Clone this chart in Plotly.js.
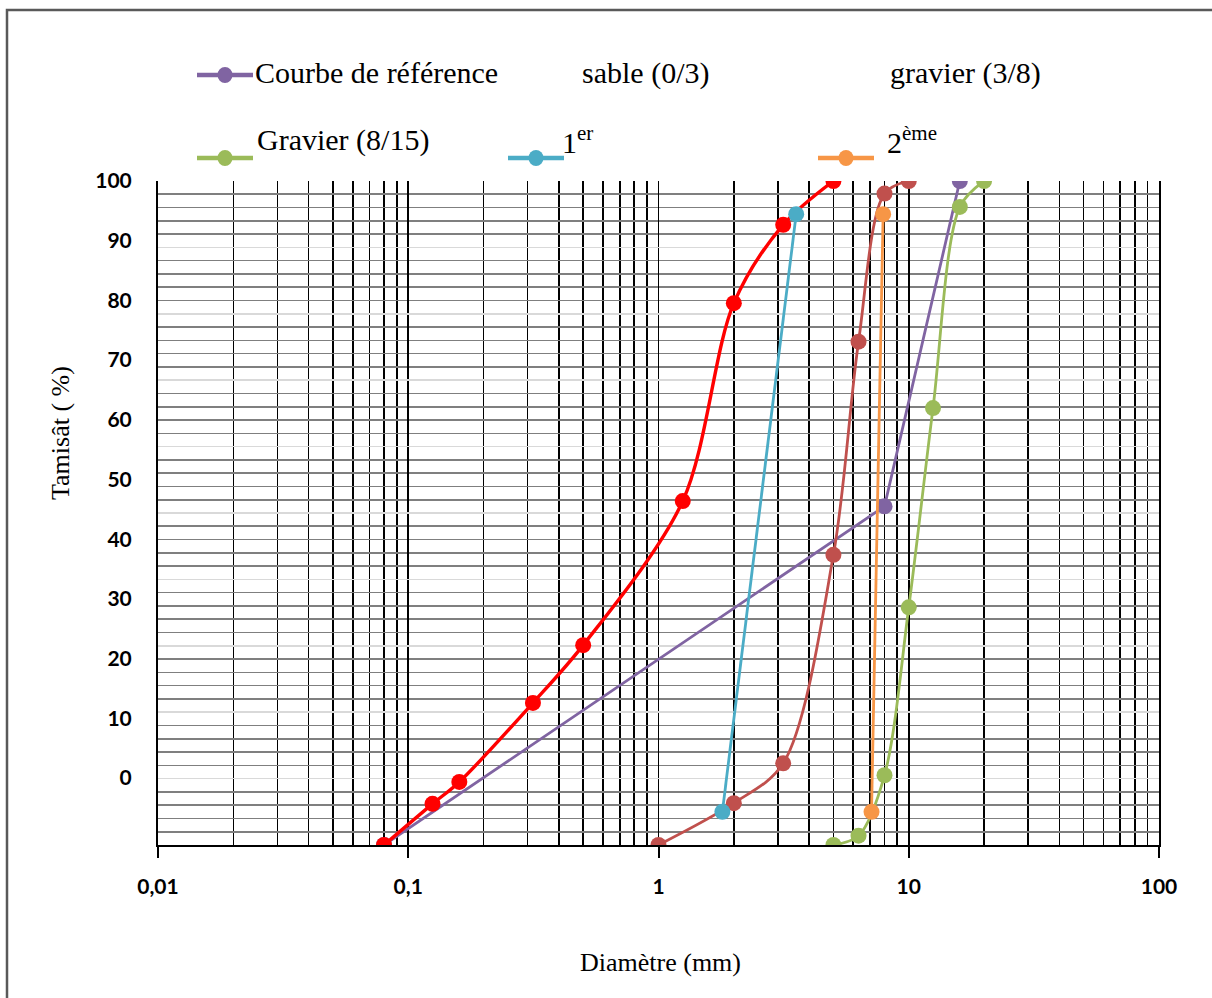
<!DOCTYPE html>
<html>
<head>
<meta charset="utf-8">
<script src="https://cdn.plot.ly/plotly-3.0.1.min.js"></script>
<style>
  html, body { margin: 0; padding: 0; background: #fff; }
  #chart { width: 1212px; height: 998px; }
</style>
</head>
<body>
<div id="chart"></div>
<script>
// Courbes granulométriques : tamisât cumulé (%) en fonction du diamètre (mm)
const seriesNames  = ['Courbe de référence', 'sable (0/3)', 'gravier (3/8)', 'Gravier (8/15)', '1<sup>er</sup>', '2<sup>ème</sup>'];
const seriesColors = ['#8064A2', '#FF0000', '#C0504D', '#9BBB59', '#4BACC6', '#F79646'];
const legendSymbol = [true, false, false, true, true, true];

const refX = [0.08, 8, 16];
const refY = [0, 51, 100];

const sableX = [0.08, 0.125, 0.16, 0.315, 0.5, 1.25, 2, 3.15, 5];
const sableY = [0, 6.2, 9.5, 21.4, 30.1, 51.8, 81.6, 93.4, 100];

const gravier38X = [1, 2, 3.15, 5, 6.3, 8, 10];
const gravier38Y = [0, 6.3, 12.3, 43.7, 75.8, 98.1, 100];

const gravier815X = [5, 6.3, 8, 10, 12.5, 16, 20];
const gravier815Y = [0, 1.4, 10.5, 35.8, 65.8, 96.1, 100];

const premierX = [1.8, 3.55];
const premierY = [5, 95];

const deuxiemeX = [7.1, 7.9];
const deuxiemeY = [5, 95];

const xTickVals = [0.01, 0.1, 1, 10, 100];
const xTickText = ['0,01', '0,1', '1', '10', '100'];
const yTickVals = [0, 10, 20, 30, 40, 50, 60, 70, 80, 90, 100];
const yTickText = ['0', '10', '20', '30', '40', '50', '60', '70', '80', '90', '100'];

const xTitle = 'Diamètre (mm)';
const yTitle = 'Tamisât ( %)';

const xs = [refX, sableX, gravier38X, gravier815X, premierX, deuxiemeX];
const ys = [refY, sableY, gravier38Y, gravier815Y, premierY, deuxiemeY];
const smooth = [false, true, true, true, false, false];

const traces = xs.map((x, i) => ({
  type: 'scatter',
  mode: 'lines+markers',
  x: x,
  y: ys[i],
  name: seriesNames[i],
  showlegend: false,
  line: { color: seriesColors[i], width: i === 1 ? 3.4 : 2.8, shape: smooth[i] ? 'spline' : 'linear', smoothing: 0.9 },
  marker: { color: seriesColors[i], size: 16, symbol: 'circle' },
  hoverinfo: 'x+y+name'
}));
// empty trace that carries the labelled scale on the left
traces.push({ type: 'scatter', x: [], y: [], yaxis: 'y2', showlegend: false, hoverinfo: 'skip' });

// minor vertical grid: 2..9 in each decade
const minorX = [];
for (let d = -2; d < 2; d++) {
  for (let k = 2; k <= 9; k++) minorX.push(k * Math.pow(10, d));
}

// plot area geometry in pixels, used to place the legend and titles
const L = 158, R = 1159, T = 181, B = 845;
const px = v => (v - L) / (R - L);
const py = v => (B - v) / (B - T);

const serif = 'Liberation Serif, Times New Roman, serif';
const annotations = [];
const shapes = [];

// outer frame of the chart area (runs off the right and bottom edges)
shapes.push({
  type: 'rect', xref: 'paper', yref: 'paper',
  x0: px(7), x1: px(1400), y0: py(1200), y1: py(10),
  line: { color: '#595959', width: 2.5 }, fillcolor: 'rgba(0,0,0,0)', layer: 'above'
});

// legend: three columns, two rows
const colText = [[253, 580, 888], [255, 560, 885]];
const rowText = [73, 140];
const rowSym = [75, 158];
const symCenter = [225, null, null, 225, 536, 846];
seriesNames.forEach((name, i) => {
  const r = Math.floor(i / 3), c = i % 3;
  annotations.push({
    xref: 'paper', yref: 'paper', x: px(colText[r][c]), y: py(rowText[r]),
    xanchor: 'left', yanchor: 'middle', showarrow: false,
    text: name, font: { family: serif, size: 30, color: '#000' }
  });
  if (legendSymbol[i]) {
    const cx = symCenter[i];
    shapes.push({
      type: 'line', xref: 'paper', yref: 'paper',
      x0: px(cx - 28), x1: px(cx + 28), y0: py(rowSym[r]), y1: py(rowSym[r]),
      line: { color: seriesColors[i], width: 4.5 }
    });
    shapes.push({
      type: 'circle', xref: 'paper', yref: 'paper',
      xsizemode: 'pixel', ysizemode: 'pixel',
      xanchor: px(cx), yanchor: py(rowSym[r]),
      x0: -7.5, x1: 7.5, y0: -8, y1: 8,
      fillcolor: seriesColors[i], line: { color: seriesColors[i], width: 0 }
    });
  }
});

// axis titles
annotations.push({
  xref: 'paper', yref: 'paper', x: px(660), y: py(962),
  xanchor: 'center', yanchor: 'middle', showarrow: false,
  text: xTitle, font: { family: serif, size: 26, color: '#000' }
});
annotations.push({
  xref: 'paper', yref: 'paper', x: px(60), y: py(433),
  xanchor: 'center', yanchor: 'middle', showarrow: false, textangle: -90,
  text: yTitle, font: { family: serif, size: 26, color: '#000' }
});

const tickFont = { family: 'Lato, Carlito, Arial, sans-serif', size: 21, color: '#000', weight: 'bold' };

const layout = {
  width: 1212,
  height: 998,
  margin: { l: L, r: 1212 - R, t: T, b: 998 - B, pad: 0 },
  paper_bgcolor: '#fff',
  plot_bgcolor: '#fff',
  showlegend: false,
  xaxis: {
    type: 'log',
    range: [-2, 2],
    tickmode: 'array',
    tickvals: xTickVals,
    ticktext: xTickText,
    tickfont: tickFont,
    ticks: 'outside', ticklen: 11, tickwidth: 2, tickcolor: '#000',
    ticklabelstandoff: 11,
    showgrid: true, gridcolor: '#000', gridwidth: 1.6,
    minor: { tickmode: 'array', tickvals: minorX, showgrid: true, gridcolor: '#000', gridwidth: 1.6, ticks: '' },
    showline: true, linecolor: '#000', linewidth: 2,
    zeroline: false
  },
  yaxis: {
    range: [0, 100],
    dtick: 10,
    showticklabels: false,
    ticks: '',
    showgrid: true, gridcolor: '#D9D9D9', gridwidth: 1.6,
    minor: { dtick: 2, showgrid: true, gridcolor: '#7F7F7F', gridwidth: 1.6, ticks: '' },
    showline: true, linecolor: '#000', linewidth: 2, mirror: true,
    zeroline: false
  },
  yaxis2: {
    overlaying: 'y',
    side: 'left',
    anchor: 'x',
    range: [-11.2, 100],
    tickmode: 'array',
    tickvals: yTickVals,
    ticktext: yTickText,
    tickfont: tickFont,
    ticks: 'outside', ticklen: 21, tickcolor: 'rgba(0,0,0,0)',
    showgrid: false, zeroline: false, showline: false
  },
  annotations: annotations,
  shapes: shapes
};

Plotly.newPlot('chart', traces, layout, { displayModeBar: false, staticPlot: true });
</script>
</body>
</html>
